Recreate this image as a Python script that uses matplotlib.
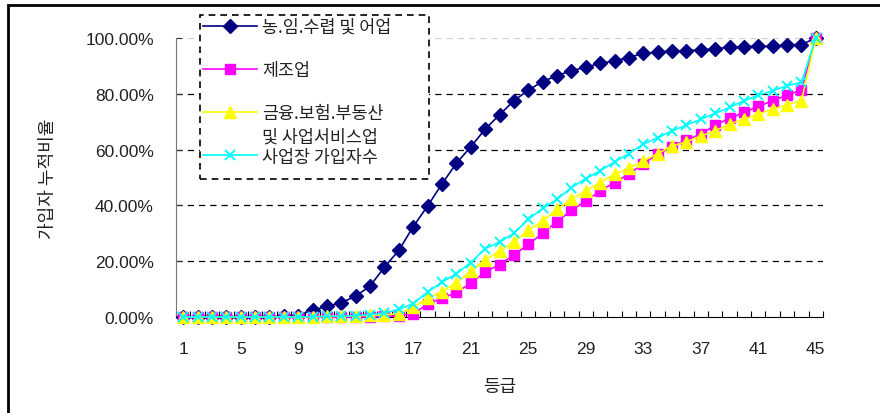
import matplotlib
matplotlib.use("Agg")
import matplotlib.pyplot as plt
from matplotlib.patches import Rectangle

plt.rcParams['font.family'] = ['Liberation Sans', 'Noto Sans CJK KR', 'DejaVu Sans']

grades = list(range(1, 46))
tick_grades = list(range(1, 46, 4))

# 누적비율 (%)
agri = [0, 0, 0, 0, 0, 0, 0.1, 0.2, 0.5, 2.5, 3.8, 5.1, 7.5, 11.1, 17.9,
        23.9, 32.4, 39.8, 47.7, 55.1, 61.0, 67.3, 72.5, 77.5, 81.3, 84.4, 86.5, 88.3, 89.5, 90.9,
        91.8, 93.0, 94.5, 94.9, 95.4, 95.4, 95.8, 96.1, 96.7, 96.9, 97.0, 97.0, 97.6, 97.6, 100]
manuf = [0, 0, 0, 0, 0, 0, 0, 0, 0, 0, 0, 0, 0, 0.1, 0.2,
         0.4, 1.2, 4.6, 6.7, 8.8, 12.1, 16.1, 18.8, 22.2, 26.0, 30.0, 34.2, 38.2, 41.6, 45.2,
         48.2, 51.2, 55.0, 58.3, 61.1, 63.5, 65.5, 68.8, 71.2, 73.3, 75.5, 77.5, 79.5, 81.4, 100]
finance = [0, 0, 0, 0, 0, 0, 0, 0, 0, 0.1, 0.2, 0.3, 0.4, 0.6, 0.8,
           1.2, 3.5, 6.7, 9.1, 12.3, 16.4, 20.5, 23.6, 27.0, 31.1, 34.4, 38.6, 42.2, 45.2, 48.2,
           51.2, 53.3, 55.9, 58.6, 61.3, 62.8, 64.9, 66.7, 69.1, 70.9, 72.7, 74.5, 76.1, 77.5, 100]
total = [0, 0, 0, 0, 0, 0, 0, 0, 0, 0.1, 0.2, 0.3, 0.5, 0.8, 1.5,
         2.7, 4.8, 9.0, 12.5, 15.5, 19.5, 24.5, 26.9, 30.0, 35.0, 38.9, 42.2, 46.4, 49.6, 52.4,
         55.6, 58.6, 61.9, 64.3, 66.7, 68.8, 70.9, 73.0, 75.1, 77.5, 79.5, 81.1, 82.9, 84.1, 100]

fig = plt.figure(figsize=(8.8, 4.14), dpi=100)
ax = fig.add_axes([176/880, 1-318/414, (823-176)/880, (318-39)/414])

ax.plot(grades, [v/100 for v in agri], color='#000080', marker='D', ms=7.5, lw=1.2,
        label='농.임.수렵 및 어업', clip_on=False, zorder=3)
ax.plot(grades, [v/100 for v in manuf], color='#FF00FF', marker='s', ms=6.5, lw=1.2,
        label='제조업', clip_on=False, zorder=4)
ax.plot(grades, [v/100 for v in finance], color='#FFFF00', marker='^', ms=8, lw=1.2,
        label='금융.보험.부동산', clip_on=False, zorder=5)
ax.plot(grades, [v/100 for v in total], color='#00FFFF', marker='x', ms=7.5, mew=1.4, lw=1.2,
        label='사업장 가입자수', clip_on=False, zorder=6)

ax.set_xlim(0.5, 45.5)
ax.set_ylim(0, 1)
ax.set_yticks([0, 0.2, 0.4, 0.6, 0.8, 1.0])
ax.set_yticklabels(['0.00%', '20.00%', '40.00%', '60.00%', '80.00%', '100.00%'], fontsize=12.5)
ax.set_xticks(tick_grades)
ax.set_xticklabels([str(g) for g in tick_grades], fontsize=12.5)
ax.set_xticks([g + 0.5 for g in range(0, 46)], minor=True)
ax.tick_params(axis='x', which='major', length=0, pad=17, labelcolor='#222222')
ax.tick_params(axis='x', which='minor', direction='in', length=4, width=0.8)
ax.tick_params(axis='y', direction='in', length=4, width=0.8, pad=16, colors='#333333',
               labelcolor='#222222')

for y in [0.2, 0.4, 0.6, 0.8]:
    ax.axhline(y, color='black', lw=0.9, ls=(0, (5, 4)), zorder=1)
ax.axhline(1.0, color='#d0d0d0', lw=0.9, ls=(0, (5, 4)), zorder=1)

for s in ['top', 'right']:
    ax.spines[s].set_visible(False)
ax.spines['left'].set_color('#777777')
ax.spines['bottom'].set_color('black')

ax.set_ylabel('가입자 누적비율', fontsize=13, family=['Noto Sans CJK KR'], color='#222222')
ax.set_xlabel('등급', fontsize=13, family=['Noto Sans CJK KR'], color='#222222')
ax.yaxis.set_label_coords((57-176)/647, 0.5)
ax.xaxis.set_label_coords(0.5, -(378-318)/279)

leg = fig.legend(loc='upper left', bbox_to_anchor=(203/880, 1-19/414), frameon=False,
                 prop={'family': 'Noto Sans CJK KR', 'size': 12.5}, handlelength=3.1,
                 handletextpad=0.3, labelspacing=1.45, borderpad=0, borderaxespad=0)
for t in leg.get_texts():
    t.set_color('#222222')

fig.canvas.draw()
# 세 번째 항목 둘째 줄
bb = leg.get_texts()[2].get_window_extent()
fig.text(bb.x0/880, ((bb.y0 + bb.y1)/2 - 23)/414, '및 사업서비스업', fontsize=12.5,
         family=['Noto Sans CJK KR'], color='#222222', va='center', ha='left', zorder=6)

# 범례 테두리와 차트 테두리
fig.patches.append(Rectangle((200/880, 1-180/414), (429-200)/880, (180-16)/414, transform=fig.transFigure,
                             fc='white', ls=(0, (4, 3)), lw=1.2, ec='black', zorder=2))
fig.patches.append(Rectangle((8/880, -0.1), 1.2, 1.1-6/414, transform=fig.transFigure,
                             fill=False, lw=2, ec='black'))

fig.savefig('out.png', dpi=100)
